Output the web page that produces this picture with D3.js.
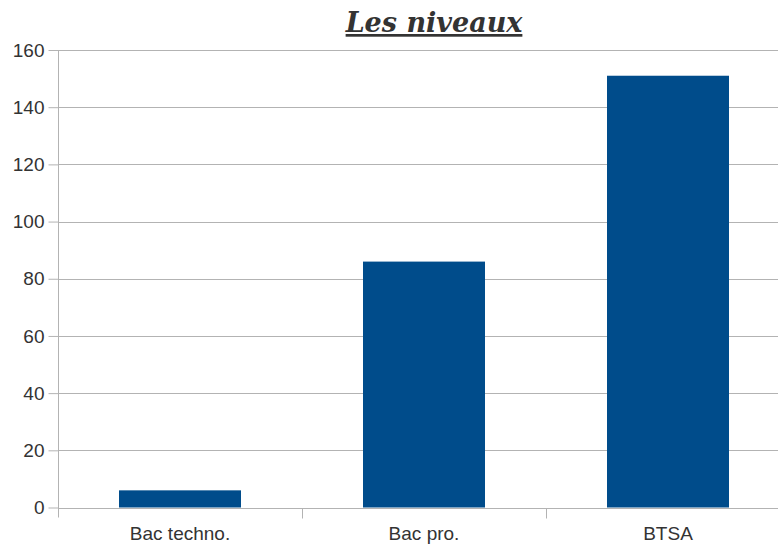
<!DOCTYPE html>
<html>
<head>
<meta charset="utf-8">
<script src="https://cdn.jsdelivr.net/npm/d3@7"></script>
<style>
  body { margin: 0; background: #fff; }
  .tick text { font-family: "Liberation Sans", Arial, sans-serif; font-size: 19px; fill: #333; }
</style>
</head>
<body>
<svg id="chart" width="778" height="544"></svg>
<script>
var categories = ["Bac techno.", "Bac pro.", "BTSA"];
var values = [6, 86, 151];
var yTicks = [0, 20, 40, 60, 80, 100, 120, 140, 160];

var svg = d3.select("#chart");
var plotLeft = 58, plotRight = 790, plotTop = 50, plotBottom = 507.5;

var x = d3.scaleBand().domain(categories).range([plotLeft, plotRight]).paddingInner(0).paddingOuter(0);
var y = d3.scaleLinear().domain([0, 160]).range([plotBottom, plotTop]);

// horizontal grid lines
svg.append("g").selectAll("line")
  .data(yTicks)
  .enter().append("line")
    .attr("x1", plotLeft).attr("x2", 778)
    .attr("y1", function(d) { return Math.round(y(d)) + 0.5; })
    .attr("y2", function(d) { return Math.round(y(d)) + 0.5; })
    .attr("stroke", "#b3b3b3").attr("stroke-width", 1);

// bars
var barW = x.bandwidth() * 0.5;
svg.append("g").selectAll("rect")
  .data(values)
  .enter().append("rect")
    .attr("x", function(d, i) { return x(categories[i]) + (x.bandwidth() - barW) / 2; })
    .attr("y", function(d) { return y(d); })
    .attr("width", barW)
    .attr("height", function(d) { return plotBottom - y(d); })
    .attr("fill", "#004c8b");

// y axis
var yAxis = d3.axisLeft(y).tickValues(yTicks).tickSize(10).tickPadding(4);
var gy = svg.append("g").attr("transform", "translate(" + (plotLeft + 0.5) + ",0)").call(yAxis);
gy.select(".domain").attr("stroke", "#b3b3b3").attr("d", "M0," + plotTop + "V" + (plotBottom + 10));
gy.selectAll(".tick line").attr("stroke", "#b3b3b3");

// x axis: category labels and boundary ticks
var gx = svg.append("g").attr("transform", "translate(0," + (Math.round(plotBottom) + 0.5) + ")");
gx.selectAll("line")
  .data(categories.slice(1))
  .enter().append("line")
    .attr("x1", function(d) { return Math.round(x(d)) + 0.5; })
    .attr("x2", function(d) { return Math.round(x(d)) + 0.5; })
    .attr("y1", 0).attr("y2", 10)
    .attr("stroke", "#b3b3b3");
gx.selectAll("text")
  .data(categories)
  .enter().append("text")
    .attr("x", function(d) { return x(d) + x.bandwidth() / 2; })
    .attr("y", 31)
    .attr("text-anchor", "middle")
    .style("font-family", "'Liberation Sans', Arial, sans-serif")
    .style("font-size", "19px")
    .style("fill", "#333")
    .text(function(d) { return d; });

// title
svg.append("text")
  .attr("x", 434).attr("y", 32)
  .attr("text-anchor", "middle")
  .style("font-family", "'DejaVu Serif', Georgia, serif")
  .style("font-size", "27px")
  .style("font-weight", "bold")
  .style("font-style", "italic")
  .style("text-decoration", "underline")
  .style("fill", "#333")
  .text("Les niveaux");
</script>
</body>
</html>
